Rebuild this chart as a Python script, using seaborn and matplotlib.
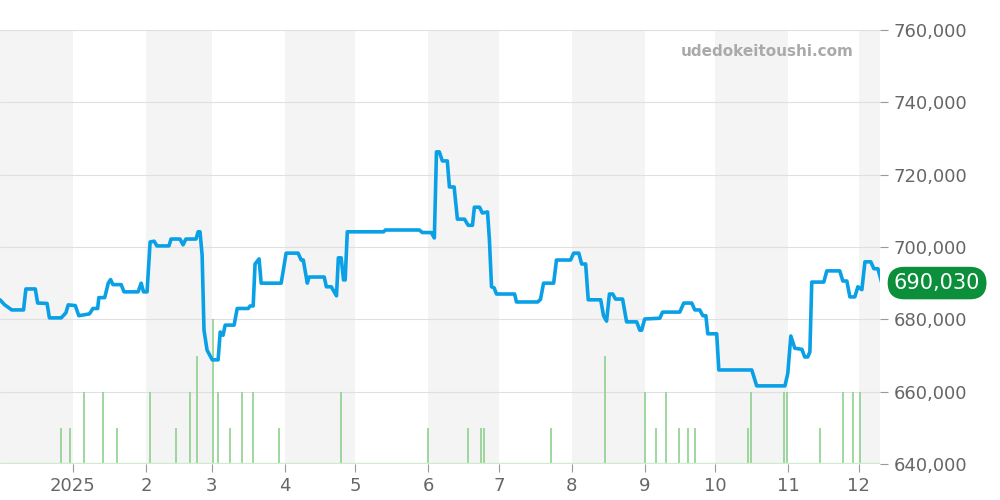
import pandas as pd
import matplotlib.pyplot as plt
import matplotlib.dates as mdates
import seaborn as sns

# price series: days from 2025-01-01, price in thousands of yen
PRICE_DAYS = [-31, -29, -26, -21, -20, -16, -15, -11, -10, -5, -3, -2, 1, 2.5, 7, 8.5, 10.5, 11, 13.5, 15,
              16, 17, 20.5, 21.7, 27.7, 29, 30, 31.5, 32.8, 34.5, 35.7, 40.8, 41.7, 45.5, 46.8, 48, 52.3, 53.2, 54, 54.9,
              55.7, 57, 59.2, 61.7, 62.6, 63.8, 64.7, 68.5, 69.8, 74.5, 75.3, 76.6, 77.4, 79.1, 80, 88.5, 90.6, 95.7, 97, 97.9,
              99.6, 100.4, 106.8, 107.7, 109.8, 112, 112.8, 114, 115, 115.7, 116.6, 132, 132.8, 147.2, 148.5, 152.3, 153.6, 154.5, 155.7, 157,
              159.1, 160, 162, 163.4, 166.4, 168, 169.8, 170.6, 172.8, 174, 176.2, 177, 177.9, 179, 180, 187.7, 188.5, 197.5, 198.7, 200,
              204.3, 205.5, 211.5, 212.8, 215, 216.2, 217.9, 219, 224.3, 225.5, 226.8, 228, 229.4, 230.6, 233.6, 235.3, 239.6, 240.9, 241.7, 243,
              249.4, 250.6, 257.9, 259.6, 263, 264.3, 266.4, 267.7, 269, 269.8, 273.6, 274.5, 288.5, 290.6, 302.6, 303.8, 305.1, 306.8, 309.8, 311,
              312.3, 313.2, 314, 319.1, 320.4, 325.9, 327.2, 328.9, 330.2, 332.3, 333.6, 335.3, 336.6, 339.1, 340.4, 342.1, 343.8]
PRICES = [685.4, 684, 682.6, 682.6, 688.4, 688.4, 684.5, 684.4, 680.4, 680.4, 681.8, 684, 683.8, 681, 681.5, 683, 683, 686, 686, 690,
          691, 689.6, 689.6, 687.6, 687.6, 690, 687.6, 687.6, 701.4, 701.6, 700.3, 700.3, 702.2, 702.2, 700.6, 702.2, 702.2, 704.2, 704.2, 697.8,
          677, 671.5, 668.8, 668.8, 676.5, 675.6, 678.4, 678.4, 683, 683, 683.7, 683.7, 695.3, 696.7, 690, 690, 698.3, 698.3, 696.4, 696.4,
          690, 691.7, 691.7, 689, 689, 686.5, 697, 697, 690.9, 690.9, 704.2, 704.2, 704.7, 704.7, 704, 704, 702.5, 726.3, 726.3, 723.8,
          723.8, 716.6, 716.6, 707.7, 707.7, 706, 706, 711, 711, 709.4, 709.7, 702, 689, 688.7, 687, 687, 684.8, 684.8, 685.5, 690,
          690, 696.4, 696.4, 698.3, 698.3, 695.3, 695.3, 685.4, 685.4, 681, 679.5, 687, 687, 685.6, 685.6, 679.3, 679.3, 677, 677, 680.1,
          680.3, 682, 682, 684.5, 684.5, 682.6, 682.6, 681, 681, 676, 676, 666, 666, 661.6, 661.6, 665, 675.4, 672, 671.7, 669.6,
          669.6, 671, 690.3, 690.3, 693.4, 693.4, 690.6, 690.6, 686.2, 686.2, 689, 688.2, 695.9, 695.9, 694, 694, 690]

# listing counts (volume)
VOL_DAYS = [-5.1, -1.3, 4.7, 12.8, 18.7, 32.8, 43.8, 49.8, 52.8, 59.6, 61.7, 66.8, 71.9, 76.6, 87.7, 114, 151, 167.7,
            173.6, 174.9, 203, 226, 243, 248, 252, 257.4, 261.3, 264.3, 286.8, 288, 302, 303.4, 317.4, 327.2, 331.5, 334.5]
VOL = [1, 1, 2, 2, 1, 2, 1, 2, 3, 4, 2, 1, 2, 2, 1, 2, 1, 1,
       1, 1, 1, 3, 2, 1, 2, 1, 1, 1, 1, 2, 2, 2, 1, 2, 2, 2]

LAST_PRICE = "690,030"
MONTH_LABELS = ["2025", "2", "3", "4", "5", "6", "7", "8", "9", "10", "11", "12"]

base = pd.Timestamp("2025-01-01")
price_df = pd.DataFrame({"date": base + pd.to_timedelta(PRICE_DAYS, unit="D"),
                         "price": [p * 1000 for p in PRICES]})
vol_df = pd.DataFrame({"date": base + pd.to_timedelta(VOL_DAYS, unit="D"), "vol": VOL})

sns.set_style("white")
fig = plt.figure(figsize=(10, 5), dpi=100)
ax = fig.add_axes([0.0, 0.072, 0.88, 0.868])
start, end = pd.Timestamp("2024-12-01"), pd.Timestamp("2025-12-10")

# alternating month shading
months = pd.date_range("2024-12-01", "2026-01-01", freq="MS")
for i in range(0, len(months) - 1, 2):
    ax.axvspan(months[i], months[i + 1], color="#f4f4f4", zorder=0, lw=0)

# volume on a twin axis
axv = ax.twinx()
axv.vlines(vol_df["date"], 0, vol_df["vol"], color="#8fd18f", lw=1.2)
axv.axhline(0.02, color="#cfeccf", lw=1)
axv.set_ylim(0, 12)
axv.set_yticks([])
for s in axv.spines.values():
    s.set_visible(False)

axp = ax.twinx()
sns.lineplot(data=price_df, x="date", y="price", ax=axp, color="#0aa0e6", lw=2.6)
axp.set_ylim(640000, 760000)
ticks = list(range(640000, 760001, 20000))
axp.set_yticks(ticks)
axp.set_yticklabels([f"{t:,}" for t in ticks], fontsize=13, color="#666666")
axp.tick_params(axis="y", length=6, color="#999999", pad=4)
axp.set_ylabel("")
axp.set_xlabel("")
for t in ticks:
    ax.axhline((t - 640000) / 120000, color="#e0e0e0", lw=0.8, zorder=1)
ax.set_ylim(0, 1)
ax.set_yticks([])
for a in (ax, axp):
    for s in a.spines.values():
        s.set_visible(False)

ax.set_xlim(start, end)
axp.set_xlim(start, end)
axv.set_xlim(start, end)
ax.set_xticks(pd.date_range("2025-01-01", "2025-12-01", freq="MS"))
ax.set_xticklabels(MONTH_LABELS, fontsize=13, color="#666666")
ax.tick_params(axis="x", length=6, color="#999999", bottom=True)

axp.text(0.97, 0.95, "udedokeitoushi.com", transform=axp.transAxes, ha="right", va="center",
         fontsize=11, fontweight="bold", color="#aaaaaa")

# last price label
axp.annotate(LAST_PRICE, xy=(1.0, 690030), xycoords=("axes fraction", "data"),
             xytext=(10, 0), textcoords="offset points", ha="left", va="center",
             fontsize=15, color="white",
             bbox=dict(boxstyle="round,pad=0.3,rounding_size=0.8", fc="#0b8f3a", ec="none"))

fig.savefig("out.png", dpi=100)
